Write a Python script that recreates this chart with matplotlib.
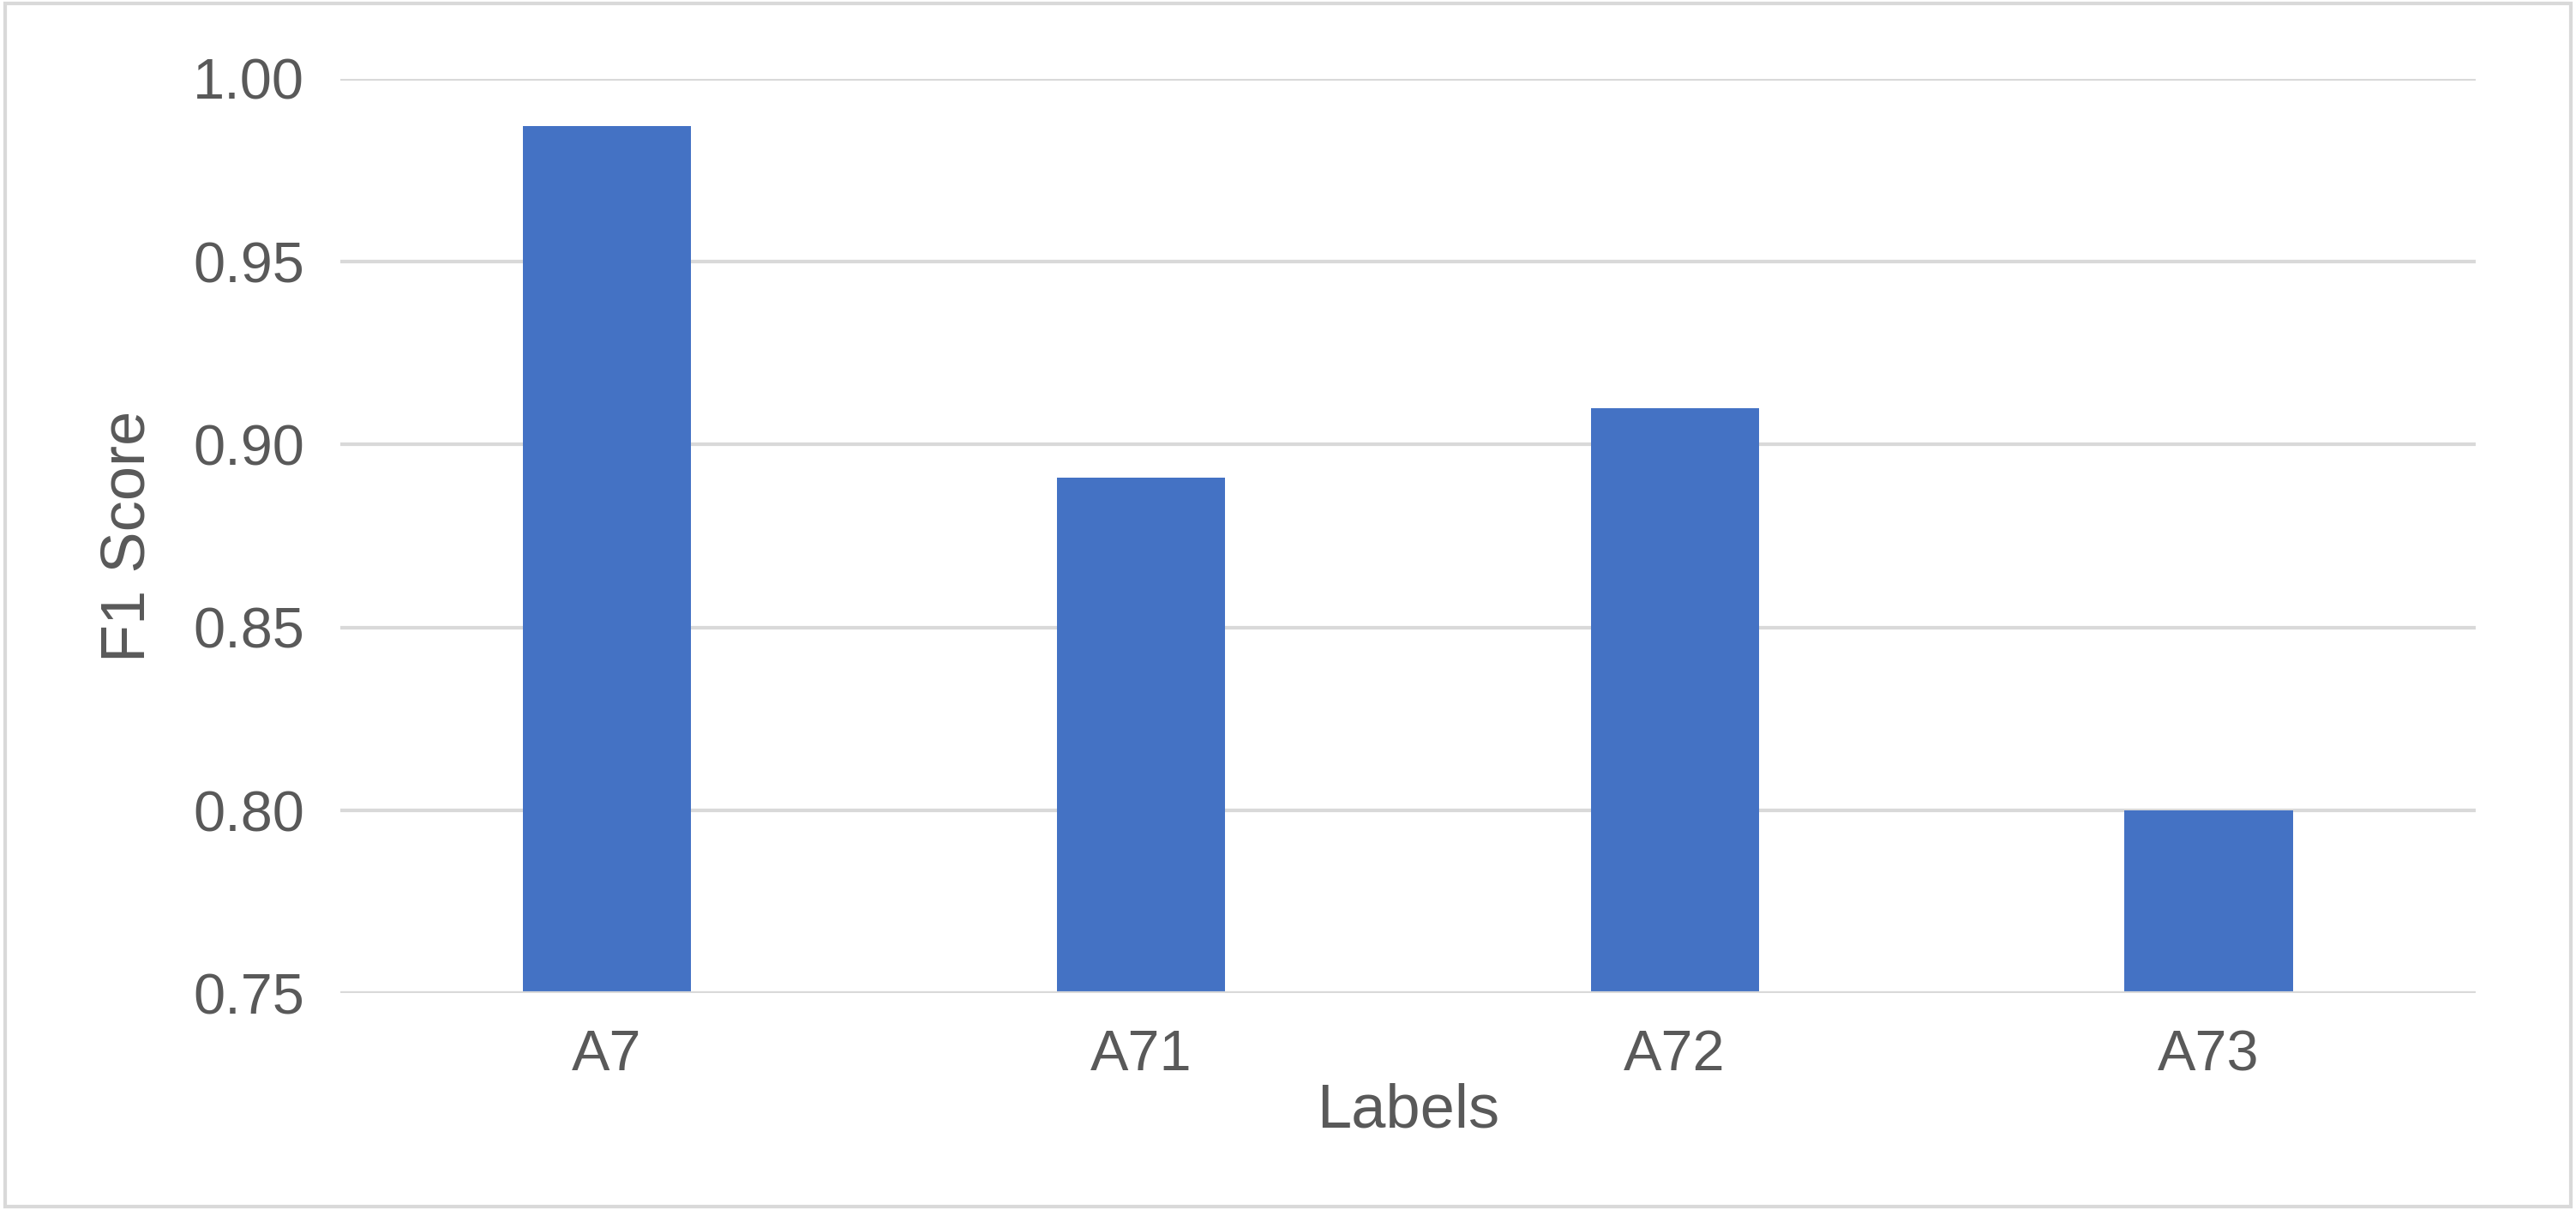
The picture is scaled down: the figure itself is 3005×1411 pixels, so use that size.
import matplotlib.pyplot as plt
from matplotlib.patches import Rectangle

# values
labels = ['A7', 'A71', 'A72', 'A73']
f1_scores = [0.987, 0.891, 0.910, 0.800]
yticks = [0.75, 0.80, 0.85, 0.90, 0.95, 1.00]

plt.rcParams['font.family'] = ['Liberation Sans', 'DejaVu Sans']

fig = plt.figure(figsize=(30.05, 14.11), dpi=100)
ax = fig.add_axes([0.132, 0.179, 0.829, 0.756])

ax.bar(labels, f1_scores, width=0.315, color='#4472C4', zorder=3)
ax.set_xlim(-0.5, 3.5)
ax.set_ylim(0.75, 1.00)
ax.set_yticks(yticks)
ax.set_yticklabels(['%.2f' % t for t in yticks])
ax.grid(axis='y', color='#D9D9D9', linewidth=3, zorder=0)
for s in ax.spines.values():
    s.set_visible(False)
ax.axhline(0.75, color='#D9D9D9', linewidth=3, zorder=4)
ax.tick_params(axis='both', length=0, labelsize=48, labelcolor='#595959', pad=30)
ax.set_xlabel('Labels', fontsize=52, color='#595959', labelpad=0)
ax.set_ylabel('F1 Score', fontsize=52, color='#595959', labelpad=30)

# thin light frame around the whole chart
fig.patches.append(Rectangle((0.002, 0.003), 0.996, 0.994, transform=fig.transFigure,
                             fill=False, edgecolor='#D9D9D9', linewidth=3))

plt.savefig('out.png', dpi=100)
